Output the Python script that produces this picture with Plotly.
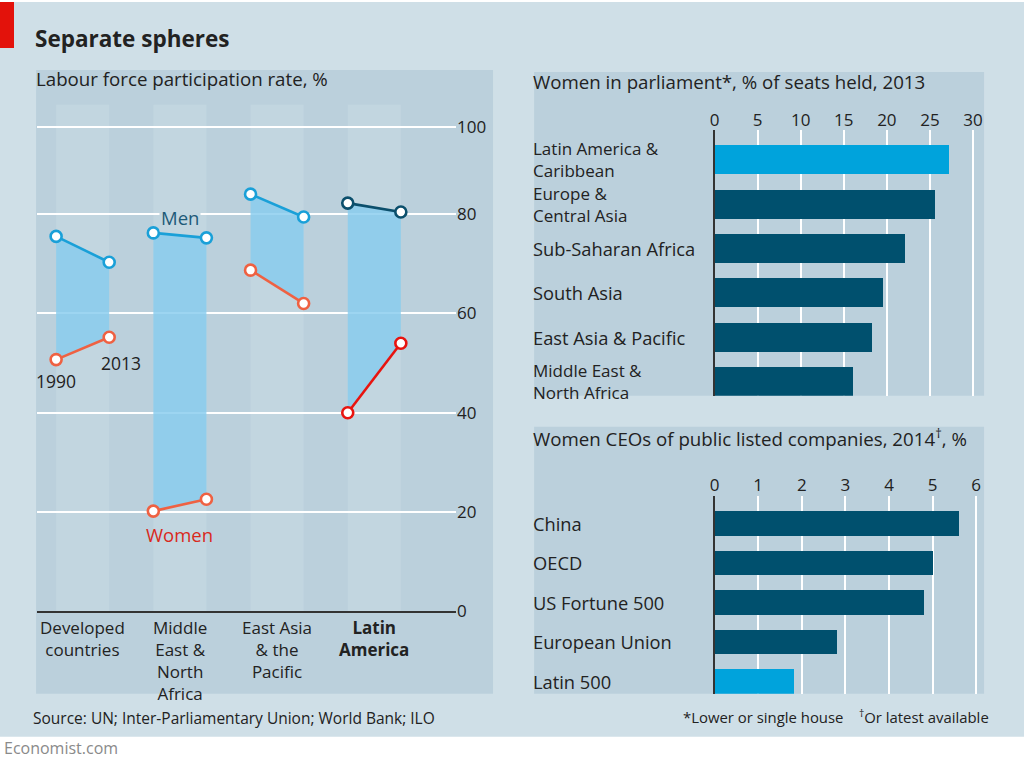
import plotly.graph_objects as go

W, H = 1024, 766
# small correction for how the page is photographed (observed: x' = 6 + 0.993x, y' = 0.986y)
SX, OX, SY = 0.993, 6.0, 0.986
def px(x): return (x - OX) / SX / W
def py(y): return 1 - (y / SY) / H

FONT = "Open Sans"
DARK = "#222222"
OUTER_BG = "#cfdfe7"
PANEL_BG = "#bbd0dc"
STRIPE = "#c2d6e0"
FILL = "rgba(133,203,237,0.8)"

# ---------- data: labour force participation ----------
regions = ["Developed<br>countries", "Middle<br>East &<br>North<br>Africa",
           "East Asia<br>& the<br>Pacific", "<b>Latin<br>America</b>"]
men_1990 = [75.5, 76.2, 84.0, 82.2]
men_2013 = [70.3, 75.2, 79.4, 80.4]
women_1990 = [50.7, 20.2, 68.7, 40.0]
women_2013 = [55.2, 22.6, 62.0, 54.0]
men_colors = ["#1aa0d8", "#1aa0d8", "#1aa0d8", "#0b4f6c"]
women_colors = ["#ef6142", "#ef6142", "#ef6142", "#e8140f"]
lf_ticks = [0, 20, 40, 60, 80, 97.6]
lf_ticktext = ["0", "20", "40", "60", "80", "100"]

# ---------- data: women in parliament ----------
parl_regions = ["Latin America &<br>Caribbean", "Europe &<br>Central Asia", "Sub-Saharan Africa",
                "South Asia", "East Asia & Pacific", "Middle East &<br>North Africa"]
parl_values = [27.2, 25.5, 22.0, 19.5, 18.2, 16.0]
parl_colors = ["#00a3dc", "#00506e", "#00506e", "#00506e", "#00506e", "#00506e"]
parl_ticks = [0, 5, 10, 15, 20, 25, 30]

# ---------- data: women CEOs ----------
ceo_groups = ["China", "OECD", "US Fortune 500", "European Union", "Latin 500"]
ceo_values = [5.6, 5.0, 4.8, 2.8, 1.8]
ceo_colors = ["#00506e", "#00506e", "#00506e", "#00506e", "#00a3dc"]
ceo_ticks = [0, 1, 2, 3, 4, 5, 6]

OFF = 0.273  # half-width between 1990 and 2013 points

fig = go.Figure()

# ---- left chart traces ----
for i in range(len(regions)):
    x0, x1 = i - OFF, i + OFF
    fig.add_trace(go.Scatter(
        x=[x0, x1, x1, x0], y=[men_1990[i], men_2013[i], women_2013[i], women_1990[i]],
        fill="toself", fillcolor=FILL, mode="none", hoverinfo="skip", showlegend=False,
        xaxis="x", yaxis="y"))
for i in range(len(regions)):
    x0, x1 = i - OFF, i + OFF
    for (a, b), col in (((men_1990[i], men_2013[i]), men_colors[i]),
                        ((women_1990[i], women_2013[i]), women_colors[i])):
        fig.add_trace(go.Scatter(
            x=[x0, x1], y=[a, b], mode="lines+markers",
            line=dict(color=col, width=2.6),
            marker=dict(symbol="circle", size=11, color="white", line=dict(color=col, width=2.6)),
            showlegend=False, xaxis="x", yaxis="y"))

# ---- right bar charts ----
fig.add_trace(go.Bar(
    x=parl_values, y=list(range(len(parl_regions))), orientation="h",
    marker=dict(color=parl_colors, line=dict(width=0)), width=0.655,
    showlegend=False, xaxis="x2", yaxis="y2"))
fig.add_trace(go.Bar(
    x=ceo_values, y=list(range(len(ceo_groups))), orientation="h",
    marker=dict(color=ceo_colors, line=dict(width=0)), width=0.62,
    showlegend=False, xaxis="x3", yaxis="y3"))

shapes = [
    dict(type="rect", xref="paper", yref="paper", x0=px(0), x1=px(1024), y0=py(737), y1=py(2),
         fillcolor=OUTER_BG, line=dict(width=0), layer="below"),
    dict(type="rect", xref="paper", yref="paper", x0=px(0), x1=px(15), y0=py(48), y1=py(2),
         fillcolor="#e3120b", line=dict(width=0), layer="below"),
    dict(type="rect", xref="paper", yref="paper", x0=px(37), x1=px(493), y0=py(694), y1=py(70),
         fillcolor=PANEL_BG, line=dict(width=0), layer="below"),
    dict(type="rect", xref="paper", yref="paper", x0=px(534), x1=px(983), y0=py(396), y1=py(72),
         fillcolor=PANEL_BG, line=dict(width=0), layer="below"),
    dict(type="rect", xref="paper", yref="paper", x0=px(534), x1=px(983), y0=py(694), y1=py(427),
         fillcolor=PANEL_BG, line=dict(width=0), layer="below"),
]
for i in range(len(regions)):
    shapes.append(dict(type="rect", xref="x", yref="y", x0=i - OFF, x1=i + OFF, y0=0, y1=102,
                       fillcolor=STRIPE, line=dict(width=0), layer="below"))


def txt(text, x, y, size, xref="paper", yref="paper", xanchor="left", yanchor="middle",
        color=DARK, **kw):
    return dict(text=text, xref=xref, yref=yref, x=x, y=y, xanchor=xanchor, yanchor=yanchor,
                showarrow=False, font=dict(size=size, color=color, family=FONT), **kw)


annotations = [
    txt("<b>Separate spheres</b>", px(34), py(39), 22.5),
    txt("Labour force participation rate, %", px(35), py(79), 18.7),
    txt("Women in parliament*, % of seats held, 2013", px(531), py(82), 18.7),
    txt("Women CEOs of public listed companies, 2014<sup>†</sup>, %", px(531), py(438), 18.7),
    txt("Source: UN; Inter-Parliamentary Union; World Bank; ILO", px(32), py(718), 15.5),
    txt("*Lower or single house    <sup>†</sup>Or latest available", px(990), py(717), 14.9,
        xanchor="right"),
    txt("Economist.com", px(3), py(748), 16, color="#8a8a8a"),
    # left chart labels
    txt("Men", 1.0, 79.3, 18.5, xref="x", yref="y", xanchor="center", color="#1d5a78", bgcolor=STRIPE),
    txt("Women", 1.0, 15.4, 18.5, xref="x", yref="y", xanchor="center", color="#d9291c"),
    txt("1990", -0.27, 46.4, 17.5, xref="x", yref="y", xanchor="center"),
    txt("2013", 0.397, 50.0, 17.5, xref="x", yref="y", xanchor="center"),
]

# left chart category labels
for i, lab in enumerate(regions):
    annotations.append(txt(lab, i, py(614), 17, xref="x", xanchor="center", yanchor="top",
                           align="center"))

# bar chart category labels
for yref, labels in (("y2", parl_regions), ("y3", ceo_groups)):
    for i, lab in enumerate(labels):
        size = 17 if "<br>" in lab else 18.3
        annotations.append(txt(lab, px(531), i, size, yref=yref, align="left"))

numfont = dict(size=17, color=DARK, family=FONT)

fig.update_layout(
    width=W, height=H, margin=dict(l=0, r=0, t=0, b=0, pad=0), autosize=False,
    paper_bgcolor="white", plot_bgcolor="rgba(0,0,0,0)",
    font=dict(family=FONT, color=DARK), showlegend=False, bargap=0,
    shapes=shapes, annotations=annotations,
    xaxis=dict(domain=[px(38), px(456)], range=[-0.469, 3.84], showticklabels=False,
               showgrid=False, zeroline=False, showline=True, linecolor="#333333", linewidth=1.5,
               ticks="", anchor="y", fixedrange=True),
    yaxis=dict(domain=[py(611.7), py(100)], range=[0, 102.96], side="right", tickvals=lf_ticks,
               ticktext=lf_ticktext, showgrid=True, gridcolor="white", gridwidth=2, zeroline=False,
               showline=False, ticks="", tickfont=numfont, anchor="x", fixedrange=True),
    xaxis2=dict(domain=[px(714), px(983)], range=[0, 31.28], side="top", tickvals=parl_ticks,
                showgrid=True, gridcolor="white", gridwidth=2, zeroline=False, showline=False,
                ticks="", tickfont=numfont, anchor="y2", fixedrange=True),
    yaxis2=dict(domain=[py(396), py(130)], range=[5.327, -0.677], showticklabels=False, showgrid=False,
                zeroline=False, showline=True, linecolor="#333333", linewidth=1.5, ticks="",
                anchor="x2", fixedrange=True),
    xaxis3=dict(domain=[px(714), px(983)], range=[0, 6.18], side="top", tickvals=ceo_ticks,
                showgrid=True, gridcolor="white", gridwidth=2, zeroline=False, showline=False,
                ticks="", tickfont=numfont, anchor="y3", fixedrange=True),
    yaxis3=dict(domain=[py(694), py(496)], range=[4.314, -0.699], showticklabels=False, showgrid=False,
                zeroline=False, showline=True, linecolor="#333333", linewidth=1.5, ticks="",
                anchor="x3", fixedrange=True),
)

post = (
    "var de=document.documentElement;de.style.margin='0';de.style.padding='0';de.style.overflow='hidden';"
    "document.body.style.margin='0';document.body.style.padding='0';document.body.style.overflow='hidden';"
)
fig.write_html("out.html", config={"displayModeBar": False}, post_script=post)
